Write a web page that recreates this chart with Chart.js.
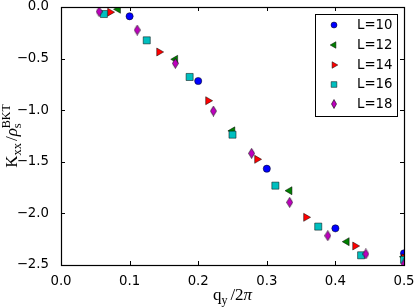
<!DOCTYPE html>
<html>
<head>
<meta charset="utf-8">
<script src="https://cdn.jsdelivr.net/npm/chart.js@4/dist/chart.umd.min.js"></script>
<style>
  html, body { margin: 0; padding: 0; background: #fff; }
</style>
</head>
<body>
<canvas id="chart-kxx" width="415" height="308"></canvas>
<script>
// q_y / 2pi values per system size, and K_xx / rho_s^BKT
const qL10 = [0.1, 0.2, 0.3, 0.4, 0.5];
const kL10 = [-0.09, -0.717, -1.567, -2.145, -2.387];

const qL12 = [0.0833, 0.1667, 0.25, 0.3333, 0.4167, 0.5];
const kL12 = [-0.022, -0.507, -1.2, -1.78, -2.274, -2.42];

const qL14 = [0.0714, 0.1429, 0.2143, 0.2857, 0.3571, 0.4286, 0.5];
const kL14 = [-0.05, -0.436, -0.908, -1.476, -2.038, -2.316, -2.43];

const qL16 = [0.0625, 0.125, 0.1875, 0.25, 0.3125, 0.375, 0.4375, 0.5];
const kL16 = [-0.068, -0.323, -0.678, -1.237, -1.731, -2.128, -2.406, -2.45];

const qL18 = [0.0556, 0.1111, 0.1667, 0.2222, 0.2778, 0.3333, 0.3889, 0.4444, 0.5];
const kL18 = [-0.045, -0.223, -0.546, -1.008, -1.418, -1.893, -2.216, -2.393, -2.49];

const seriesLabels = ["L=10", "L=12", "L=14", "L=16", "L=18"];
const xTicks = [0, 0.1, 0.2, 0.3, 0.4, 0.5];
const yTicks = [0, -0.5, -1.0, -1.5, -2.0, -2.5];

(function () {
  const tickFont = { family: "'DejaVu Sans'", size: 13.3 };
  const serif = "'Liberation Serif', 'DejaVu Serif', serif";

  function thinDiamond(w, h, color) {
    const c = document.createElement("canvas");
    c.width = w;
    c.height = h;
    const g = c.getContext("2d");
    g.beginPath();
    g.moveTo(w / 2, 0.5);
    g.lineTo(w - 0.5, h / 2);
    g.lineTo(w / 2, h - 0.5);
    g.lineTo(0.5, h / 2);
    g.closePath();
    g.fillStyle = color;
    g.fill();
    g.lineWidth = 0.6;
    g.strokeStyle = "#000";
    g.stroke();
    return c;
  }

  const pts = (xs, ys) => xs.map((x, i) => ({ x: x, y: ys[i] }));

  const styles = [
    { color: "#0000ff", pointStyle: "circle", radius: 3.6, rotation: 0 },
    { color: "#008000", pointStyle: "triangle", radius: 4.6, rotation: -90 },
    { color: "#ff0000", pointStyle: "triangle", radius: 4.6, rotation: 90 },
    { color: "#00bfbf", pointStyle: "rect", radius: 5.0, rotation: 0 },
    { color: "#bf00bf", pointStyle: thinDiamond(7, 11, "#bf00bf"), radius: 5, rotation: 0 },
  ];
  const legendStyles = [
    { pointStyle: "circle", radius: 3.0, rotation: 0 },
    { pointStyle: "triangle", radius: 3.8, rotation: -90 },
    { pointStyle: "triangle", radius: 3.8, rotation: 90 },
    { pointStyle: "rect", radius: 4.0, rotation: 0 },
    { pointStyle: thinDiamond(6, 10, "#bf00bf"), radius: 4, rotation: 0 },
  ];

  const allQ = [qL10, qL12, qL14, qL16, qL18];
  const allK = [kL10, kL12, kL14, kL16, kL18];

  const datasets = seriesLabels.map((label, i) => ({
    label: label,
    data: pts(allQ[i], allK[i]),
    backgroundColor: styles[i].color,
    borderColor: "#000",
    borderWidth: 0.5,
    pointStyle: styles[i].pointStyle,
    pointRadius: styles[i].radius,
    pointHoverRadius: styles[i].radius,
    pointRotation: styles[i].rotation,
    clip: 0,
    order: seriesLabels.length - i,
  }));

  function drawRich(ctx, pieces, x, y) {
    // pieces: {t, size, dy, italic, gap, stack}
    let cx = x;
    let lastStart = x;
    let lastW = 0;
    pieces.forEach((p) => {
      ctx.font = (p.italic ? "italic " : "") + p.size + "px " + serif;
      const w = ctx.measureText(p.t).width;
      if (p.stack) {
        ctx.fillText(p.t, lastStart, y + (p.dy || 0));
        cx = lastStart + Math.max(w, lastW);
      } else {
        ctx.fillText(p.t, cx + (p.gap || 0), y + (p.dy || 0));
        lastStart = cx + (p.gap || 0);
        lastW = w;
        cx = lastStart + w;
      }
    });
    return cx - x;
  }

  function richWidth(ctx, pieces) {
    ctx.save();
    ctx.globalAlpha = 0;
    const w = drawRich(ctx, pieces, 0, 0);
    ctx.restore();
    return w;
  }

  const framePlugin = {
    id: "frame",
    afterDraw(chart) {
      const ctx = chart.ctx;
      const a = chart.chartArea;
      const xs = chart.scales.x;
      const ys = chart.scales.y;
      ctx.save();
      ctx.strokeStyle = "#000";
      ctx.lineWidth = 1;
      ctx.beginPath();
      xTicks.forEach((v) => {
        const px = Math.round(xs.getPixelForValue(v)) + 0.5;
        ctx.moveTo(px, a.bottom);
        ctx.lineTo(px, a.bottom - 4);
        ctx.moveTo(px, a.top);
        ctx.lineTo(px, a.top + 4);
      });
      yTicks.forEach((v) => {
        const py = Math.round(ys.getPixelForValue(v)) + 0.5;
        ctx.moveTo(a.left, py);
        ctx.lineTo(a.left + 4, py);
        ctx.moveTo(a.right, py);
        ctx.lineTo(a.right - 4, py);
      });
      ctx.stroke();
      ctx.lineWidth = 1.2;
      ctx.strokeRect(Math.round(a.left) + 0.5, Math.round(a.top) + 0.5,
        Math.round(a.right - a.left), Math.round(a.bottom - a.top));

      // legend
      const lx = 315.5, ly = 14.5, lw = 82, lh = 102;
      ctx.fillStyle = "#fff";
      ctx.fillRect(lx, ly, lw, lh);
      ctx.lineWidth = 1;
      ctx.strokeStyle = "#000";
      ctx.strokeRect(lx, ly, lw, lh);
      const rows = [25, 45, 65, 84.5, 104];
      seriesLabels.forEach((label, i) => {
        ctx.fillStyle = styles[i].color;
        ctx.strokeStyle = "#000";
        ctx.lineWidth = 0.5;
        Chart.helpers.drawPoint(ctx, {
          pointStyle: legendStyles[i].pointStyle,
          radius: legendStyles[i].radius,
          rotation: legendStyles[i].rotation,
          borderWidth: 0.5,
        }, 334, rows[i]);
        ctx.fillStyle = "#000";
        ctx.font = "13.3px 'DejaVu Sans'";
        ctx.textBaseline = "middle";
        ctx.textAlign = "left";
        ctx.fillText(label, 357, rows[i] + 0.5);
      });

      // axis titles
      ctx.fillStyle = "#000";
      ctx.textBaseline = "alphabetic";
      ctx.textAlign = "left";
      const xl = [
        { t: "q", size: 17 },
        { t: "y", size: 12, dy: 3.5 },
        { t: "/2", size: 17, gap: 3 },
        { t: "\u03c0", size: 17, italic: true },
      ];
      const xw = richWidth(ctx, xl);
      drawRich(ctx, xl, (a.left + a.right) / 2 - xw / 2, 300);

      const yl = [
        { t: "K", size: 17 },
        { t: "xx", size: 12.5, dy: 3.5 },
        { t: "/", size: 17, gap: 2 },
        { t: "\u03c1", size: 17, italic: true },
        { t: "s", size: 12.5, dy: 3.5 },
        { t: "BKT", size: 12, dy: -7.5, stack: true },
      ];
      const yw = richWidth(ctx, yl);
      ctx.translate(17, (a.top + a.bottom) / 2);
      ctx.rotate(-Math.PI / 2);
      drawRich(ctx, yl, -yw / 2, 0);
      ctx.restore();
    },
  };

  const fmt = (v) => {
    const s = Number(v).toFixed(1);
    return s === "-0.0" ? "0.0" : s.replace("-", "\u2212");
  };

  new Chart(document.getElementById("chart-kxx"), {
    type: "scatter",
    data: { datasets: datasets },
    options: {
      responsive: false,
      animation: false,
      events: [],
      layout: { padding: { top: 7, right: 11, left: 0, bottom: 0 } },
      plugins: { legend: { display: false }, tooltip: { enabled: false } },
      scales: {
        x: {
          type: "linear",
          min: 0,
          max: 0.5,
          afterBuildTicks: (s) => { s.ticks = xTicks.map((v) => ({ value: v })); },
          afterFit: (s) => {
            s.height = 43;
            s.paddingLeft = 0;
            s.paddingRight = 0;
          },
          ticks: { color: "#000", font: tickFont, padding: 1, maxRotation: 0, callback: fmt },
          grid: { display: false },
          border: { display: false },
        },
        y: {
          type: "linear",
          min: -2.5,
          max: 0,
          afterBuildTicks: (s) => { s.ticks = yTicks.slice().reverse().map((v) => ({ value: v })); },
          afterFit: (s) => {
            s.width = 61;
            s.paddingTop = 0;
            s.paddingBottom = 0;
          },
          ticks: { color: "#000", font: tickFont, padding: 4, callback: fmt },
          grid: { display: false },
          border: { display: false },
        },
      },
    },
    plugins: [framePlugin],
  });
})();
</script>
</body>
</html>
